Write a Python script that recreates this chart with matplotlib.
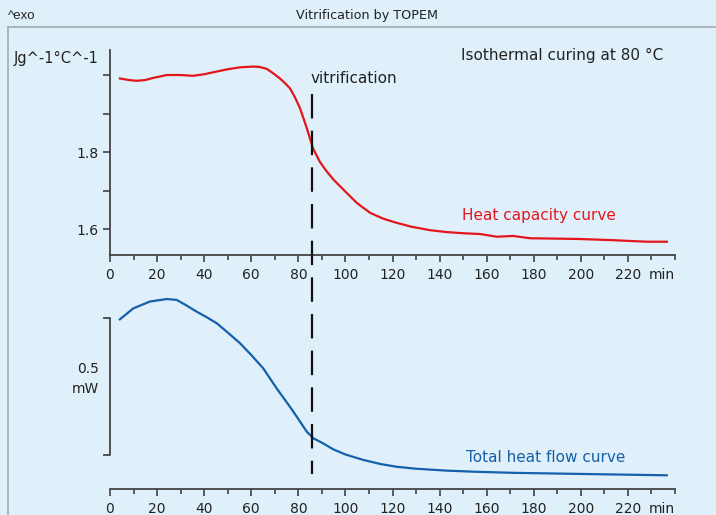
import matplotlib
matplotlib.use("Agg")
import matplotlib.pyplot as plt
from matplotlib.lines import Line2D
from matplotlib.transforms import blended_transform_factory

# heat capacity curve (J g^-1 °C^-1) vs time (min)
cp_time = [4.2, 8, 11.3, 15, 18, 24.1, 30, 35.3, 40, 45.3, 50, 55.2, 60.7,
           63.5, 66.6, 69, 72.2, 74.5, 76.5, 78.5, 80.7, 83.6, 86.2, 89.2,
           92, 95, 100.5, 105, 110.5, 116, 121.8, 128, 135.9, 143, 150, 157.2,
           164.3, 171.2, 178.4, 190, 199.7, 213.7, 228, 236.5]
cp_value = [1.991, 1.987, 1.985, 1.987, 1.992, 2.000, 2.000, 1.998, 2.002,
            2.009, 2.015, 2.020, 2.022, 2.021, 2.016, 2.006, 1.991, 1.978,
            1.965, 1.943, 1.914, 1.862, 1.810, 1.774, 1.750, 1.728, 1.694,
            1.667, 1.642, 1.627, 1.616, 1.606, 1.597, 1.592, 1.589, 1.587,
            1.580, 1.582, 1.576, 1.575, 1.574, 1.571, 1.567, 1.567]

# total heat flow (mW, relative) vs time (min)
hf_time = [4.2, 9.9, 17.0, 24.1, 28.3, 32, 36.8, 41, 45.3, 50, 55.2, 60,
           65.1, 70.8, 75.1, 77.9, 83.6, 86.4, 90, 95, 100, 107.6, 115,
           121.8, 130, 143.0, 155, 171.2, 199.7, 236.5]
hf_value = [0.495, 0.535, 0.560, 0.569, 0.566, 0.548, 0.523, 0.503, 0.481,
            0.447, 0.408, 0.365, 0.316, 0.243, 0.192, 0.158, 0.085, 0.061,
            0.045, 0.020, 0.002, -0.018, -0.033, -0.043, -0.050, -0.057,
            -0.061, -0.065, -0.069, -0.074]

vitrification_time = 86
x_major = list(range(0, 240, 20))
x_labels = [str(v) for v in x_major]
cp_ticks = [1.6, 1.7, 1.8, 1.9, 2.0]
cp_labels = ["1.6", "", "1.8", "", ""]

bg = "#dff0fa"
red = "#e3161b"
blue = "#1460aa"
ink = "#222222"
axis_col = "#444444"

plt.rcParams["font.family"] = ["DejaVu Sans"]

fig = plt.figure(figsize=(7.16, 5.15), dpi=100, facecolor=bg)

# frame around plot area + header
fig.add_artist(Line2D([8 / 716, 8 / 716], [0, 1 - 27 / 515], color="#a3abb3", lw=1.2))
fig.add_artist(Line2D([8 / 716, 1], [1 - 27 / 515, 1 - 27 / 515], color="#a3abb3", lw=1.2))
fig.text(8 / 716, 1 - 16 / 515, "^exo", fontsize=9.5, color=ink, va="center", ha="left",
         family=["Liberation Sans", "DejaVu Sans"])
fig.text(367 / 716, 1 - 16 / 515, "Vitrification by TOPEM", fontsize=9.2, color=ink,
         va="center", ha="center")

# upper panel: heat capacity
cp_lo, cp_hi = 1.5325, 2.065
ax1 = fig.add_axes([110 / 716, 1 - 255 / 515, 565 / 716, 205 / 515], facecolor=bg)
ax1.plot(cp_time, cp_value, color=red, lw=1.6)
ax1.set_xlim(0, 240)
ax1.set_ylim(cp_lo, cp_hi)
ax1.set_yticks(cp_ticks)
ax1.set_yticklabels(cp_labels)
ax1.set_xticks(x_major)
ax1.set_xticklabels(x_labels)
ax1.set_xticks(range(10, 250, 10), minor=True)
ax1.text(240, 1.470, "min", ha="right", va="baseline", fontsize=10, color=ink, clip_on=False)
ax1.text(-4.7, 2.030, "Jg^-1°C^-1", ha="right", va="baseline", fontsize=10.5, color=ink)
ax1.text(234.9, 2.052, "Isothermal curing at 80 °C", ha="right", va="center", fontsize=11, color=ink)
ax1.text(85, 1.9805, "vitrification", ha="left", va="baseline", fontsize=11, color=ink)
ax1.text(182.2, 1.6234, "Heat capacity curve", ha="center", va="baseline", fontsize=11, color=red)

# lower panel: total heat flow
hf_lo, hf_hi = -0.124, 0.602
ax2 = fig.add_axes([110 / 716, 1 - 489 / 515, 565 / 716, 199 / 515], facecolor=bg)
ax2.plot(hf_time, hf_value, color=blue, lw=1.6)
ax2.set_xlim(0, 240)
ax2.set_ylim(hf_lo, hf_hi)
ax2.set_yticks([])
ax2.set_xticks(x_major)
ax2.set_xticklabels(x_labels)
ax2.set_xticks(range(10, 250, 10), minor=True)
ax2.spines["left"].set_visible(False)
ax2.text(240, -0.2117, "min", ha="right", va="baseline", fontsize=10, color=ink, clip_on=False)
ax2.text(185.2, -0.0255, "Total heat flow curve", ha="center", va="baseline", fontsize=11, color=blue)

# 0.5 mW scale bracket
ax2.plot([-2.5, 0, 0, -2.5], [0.5, 0.5, 0.0, 0.0], color=axis_col, lw=1.3, clip_on=False)
ax2.text(-4.7, 0.299, "0.5", ha="right", va="baseline", fontsize=10, color=ink)
ax2.text(-4.7, 0.226, "mW", ha="right", va="baseline", fontsize=10, color=ink)

for ax in (ax1, ax2):
    ax.spines["top"].set_visible(False)
    ax.spines["right"].set_visible(False)
    ax.spines["left"].set_color(axis_col)
    ax.spines["bottom"].set_color(axis_col)
    ax.spines["left"].set_linewidth(1.3)
    ax.spines["bottom"].set_linewidth(1.3)
    ax.tick_params(which="major", direction="out", length=5, width=1.2, color=axis_col,
                   labelsize=10, labelcolor=ink, pad=3)
    ax.tick_params(which="minor", direction="out", length=3.5, width=1.2, color=axis_col)
    ax.tick_params(axis="x", which="major", pad=4.5)

# vitrification marker across both panels
trans = blended_transform_factory(ax1.transData, fig.transFigure)
fig.add_artist(Line2D([vitrification_time, vitrification_time], [1 - 94 / 515, 1 - 474 / 515],
                      transform=trans, color="#111111", lw=1.6, dashes=(11, 5.5)))

fig.savefig("out.png", dpi=100, facecolor=bg)
